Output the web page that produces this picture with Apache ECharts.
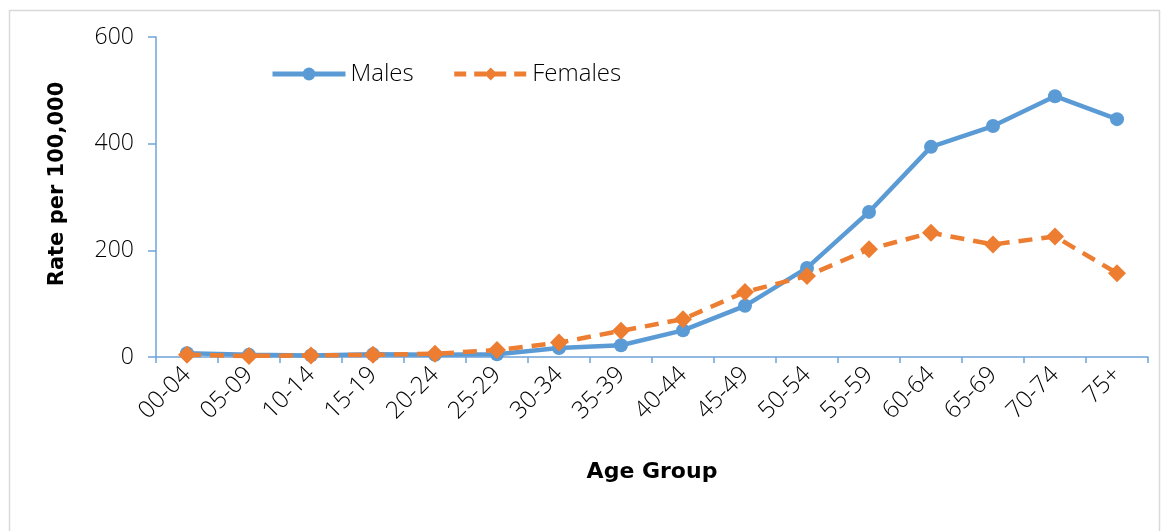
<!DOCTYPE html>
<html>
<head>
<meta charset="utf-8">
<script src="https://cdn.jsdelivr.net/npm/echarts@6/dist/echarts.min.js"></script>
<style>
  html, body { margin: 0; padding: 0; background: #fff; }
  #chart { width: 1168px; height: 531px; }
</style>
</head>
<body>
<div id="chart"></div>
<script>
var ageGroups = ['00-04', '05-09', '10-14', '15-19', '20-24', '25-29', '30-34', '35-39',
    '40-44', '45-49', '50-54', '55-59', '60-64', '65-69', '70-74', '75+'];
var males = [7, 4, 3, 5, 4, 5, 17, 22, 50, 96, 167, 272, 394, 433, 489, 446];
var females = [4, 2, 3, 4, 6, 13, 27, 49, 71, 122, 152, 202, 233, 211, 226, 157];

// thin text for labels, bold for axis titles
var lightFont = '"Open Sans", "Noto Sans", sans-serif';
var boldFont = '"DejaVu Sans", "Noto Sans", sans-serif';
var axisBlue = '#6fa3d8';
var blue = '#5b9bd5';
var orange = '#ed7d31';

var myChart = echarts.init(document.getElementById('chart'));
var option = {
    animation: false,
    backgroundColor: '#fff',
    graphic: [{
        type: 'rect',
        shape: { x: 9.5, y: 10.5, width: 1150, height: 540 },
        style: { fill: 'none', stroke: '#d9d9d9', lineWidth: 1.5 },
        silent: true
    }],
    grid: { left: 156, right: 20, top: 37, bottom: 174 },
    legend: {
        left: 265,
        top: 57,
        itemWidth: 73,
        itemHeight: 16,
        itemGap: 38,
        textStyle: { fontFamily: lightFont, fontWeight: 300, fontSize: 24, color: '#000' },
        data: [
            { name: 'Males', lineStyle: { width: 5, color: blue }, itemStyle: { color: blue } },
            { name: 'Females', lineStyle: { width: 5, color: orange, type: [12, 8] }, itemStyle: { color: orange } }
        ]
    },
    xAxis: {
        type: 'category',
        data: ageGroups,
        boundaryGap: true,
        name: 'Age Group',
        nameLocation: 'middle',
        nameGap: 104,
        nameTextStyle: { fontFamily: boldFont, fontSize: 22, fontWeight: 'bold', color: '#000' },
        axisLine: { lineStyle: { color: axisBlue, width: 1.5 } },
        axisTick: { show: true, length: 6, lineStyle: { color: axisBlue, width: 1.5 } },
        axisLabel: {
            rotate: 45, interval: 0, margin: 14,
            fontFamily: lightFont, fontWeight: 300, fontSize: 24, color: '#000'
        }
    },
    yAxis: {
        type: 'value',
        min: 0,
        max: 600,
        interval: 200,
        name: 'Rate per 100,000',
        nameLocation: 'middle',
        nameGap: 88,
        nameTextStyle: {
            fontFamily: boldFont, fontSize: 21, fontWeight: 'bold', color: '#000',
            padding: [0, 0, 0, 26]
        },
        axisLine: { show: true, lineStyle: { color: axisBlue, width: 1.5 } },
        axisTick: { show: true, length: 8, lineStyle: { color: axisBlue, width: 1.5 } },
        splitLine: { show: false },
        axisLabel: { margin: 22, fontFamily: lightFont, fontWeight: 300, fontSize: 23, color: '#000' }
    },
    series: [
        {
            name: 'Males',
            type: 'line',
            data: males,
            symbol: 'circle',
            symbolSize: 14,
            itemStyle: { color: blue },
            lineStyle: { color: blue, width: 4.5 }
        },
        {
            name: 'Females',
            type: 'line',
            data: females,
            symbol: 'diamond',
            symbolSize: 18,
            itemStyle: { color: orange },
            lineStyle: { color: orange, width: 4.5, type: [14, 9] }
        }
    ]
};
myChart.setOption(option);
</script>
</body>
</html>
